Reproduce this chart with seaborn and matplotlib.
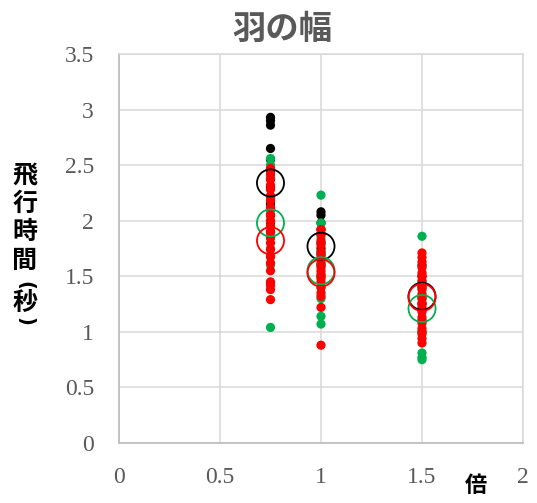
import numpy as np
import pandas as pd
import matplotlib
matplotlib.use("Agg")
import matplotlib.pyplot as plt
import seaborn as sns

# 羽の幅の倍率ごとの飛行時間（秒）
ratios = [0.75, 1.0, 1.5]
groups = ["黒", "緑", "赤"]
colors = {"黒": "#000000", "緑": "#00B050", "赤": "#FF0000"}

black_075 = [2.93, 2.90, 2.86, 2.65, 2.55, 2.45, 2.38, 2.30, 2.22, 2.15, 2.10, 2.05, 1.98, 1.90, 1.85]
black_100 = [2.08, 2.05, 1.98, 1.92, 1.88, 1.80, 1.75, 1.70, 1.60, 1.50]
black_150 = [1.60, 1.50, 1.40, 1.32, 1.25, 1.20, 1.10, 1.00]

green_075 = [2.56, 2.50, 2.40, 2.20, 2.10, 2.00, 1.95, 1.85, 1.75, 1.67, 1.60, 1.44, 1.04]
green_100 = [2.23, 1.98, 1.85, 1.72, 1.60, 1.50, 1.40, 1.30, 1.14, 1.07]
green_150 = [1.86, 1.45, 1.30, 1.20, 1.10, 1.00, 0.81, 0.77, 0.75]

red_075 = [2.47, 2.42, 2.37, 2.32, 2.28, 2.22, 2.18, 2.12, 2.05, 2.00, 1.95, 1.90,
           1.85, 1.80, 1.74, 1.68, 1.62, 1.55, 1.45, 1.42, 1.38, 1.29]
red_100 = [1.92, 1.88, 1.82, 1.78, 1.72, 1.68, 1.62, 1.58, 1.55, 1.52, 1.48, 1.45,
           1.40, 1.35, 1.32, 1.22, 0.88]
red_150 = [1.71, 1.67, 1.63, 1.58, 1.53, 1.50, 1.46, 1.42, 1.38, 1.34, 1.30, 1.26,
           1.22, 1.18, 1.13, 1.08, 1.03, 0.98, 0.94, 0.90]

# 各群の平均
mean_black = [2.34, 1.77, 1.32]
mean_green = [1.98, 1.55, 1.21]
mean_red = [1.82, 1.53, 1.31]

x_ticks = [0, 0.5, 1, 1.5, 2]
x_labels = ["0", "0.5", "1", "1.5", "2"]
y_ticks = [0, 0.5, 1, 1.5, 2, 2.5, 3, 3.5]
y_labels = ["0", "0.5", "1", "1.5", "2", "2.5", "3", "3.5"]

title = "羽の幅"
ylabel_chars = ["飛", "行", "時", "間", "(", "秒", ")"]
xlabel = "倍"

raw = {
    "黒": [black_075, black_100, black_150],
    "緑": [green_075, green_100, green_150],
    "赤": [red_075, red_100, red_150],
}
rows = []
for g in groups:
    for r, vals in zip(ratios, raw[g]):
        for v in vals:
            rows.append({"倍率": r, "飛行時間": v, "群": g})
points = pd.DataFrame(rows)

means = {"黒": mean_black, "緑": mean_green, "赤": mean_red}

sns.set_theme(style="white")
plt.rcParams["font.family"] = ["Liberation Serif", "DejaVu Serif"]

fig = plt.figure(figsize=(5.37, 5.03), dpi=100)
W, H = 537, 503
ax = fig.add_axes([119 / W, 1 - 443 / H, (523 - 119) / W, (443 - 54) / H])

sns.scatterplot(data=points, x="倍率", y="飛行時間", hue="群", hue_order=groups,
                palette=colors, s=44, linewidth=0, legend=False, ax=ax, zorder=3)

for g in groups:
    sns.scatterplot(x=ratios, y=means[g], s=380, facecolor="none",
                    edgecolor=colors[g], linewidth=1.3, legend=False, ax=ax, zorder=4)

ax.set_xlim(0, 2)
ax.set_ylim(0, 3.5)
ax.set_xticks(x_ticks)
ax.set_xticklabels(x_labels)
ax.set_yticks(y_ticks)
ax.set_yticklabels(y_labels)
ax.tick_params(axis="both", length=0, labelsize=17, labelcolor="#595959")
ax.tick_params(axis="x", pad=17)
ax.tick_params(axis="y", pad=18)
ax.grid(True, color="#D9D9D9", linewidth=1.1, zorder=0)
ax.set_axisbelow(True)
ax.set_xlabel("")
ax.set_ylabel("")
for side in ["top", "right"]:
    ax.spines[side].set_color("#D9D9D9")
    ax.spines[side].set_linewidth(1.1)
for side in ["left", "bottom"]:
    ax.spines[side].set_color("#BFBFBF")
    ax.spines[side].set_linewidth(1.3)

cjk = ["Noto Sans CJK JP", "DejaVu Sans"]
fig.text(282 / W, 1 - 29 / H, title, ha="center", va="center", fontsize=24,
         fontweight="bold", color="#595959", family=cjk)

# 縦書きの軸ラベル（括弧は横倒し）
ylabel_y = [176, 204, 232, 261, 285, 303, 321]
for ch, yy in zip(ylabel_chars, ylabel_y):
    if ch in "()":
        fig.text(25 / W, 1 - yy / H, ch, ha="center", va="center", fontsize=14,
                 fontweight="bold", color="black", rotation=-90, family=["DejaVu Sans"])
    else:
        fig.text(25 / W, 1 - yy / H, ch, ha="center", va="center", fontsize=18,
                 fontweight="bold", color="black", family=cjk)

fig.text(476 / W, 1 - 485 / H, xlabel, ha="center", va="center", fontsize=16,
         fontweight="bold", color="black", family=cjk)

fig.savefig("out.png", dpi=100)
